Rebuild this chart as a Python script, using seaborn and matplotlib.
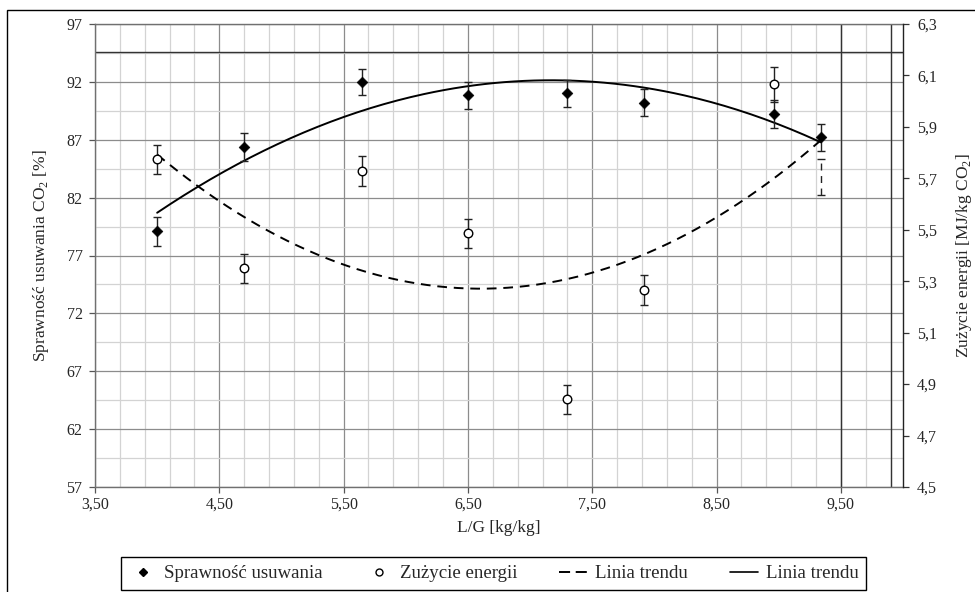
import numpy as np
import matplotlib
matplotlib.use("Agg")
import matplotlib.pyplot as plt
import seaborn as sns
from matplotlib.ticker import MultipleLocator, FuncFormatter
from matplotlib.lines import Line2D
from matplotlib.patches import Rectangle

# L/G ratio and measured values
lg = [4.00, 4.70, 5.65, 6.50, 7.30, 7.92, 8.96, 9.34]
sprawnosc = [79.1, 86.35, 92.0, 90.85, 91.0, 90.2, 89.2, 87.2]
sprawnosc_err = [1.25, 1.2, 1.15, 1.18, 1.18, 1.18, 1.2, 1.18]
zuzycie = [5.774, 5.35, 5.728, 5.486, 4.841, 5.266, 6.066, 5.705]
zuzycie_err = [0.057, 0.057, 0.057, 0.057, 0.056, 0.057, 0.068, 0.069]

sns.set_style("white")
plt.rcParams['font.family'] = ['Liberation Serif', 'DejaVu Serif']
plt.rcParams['mathtext.fontset'] = 'custom'
plt.rcParams['mathtext.rm'] = 'Liberation Serif'

fig = plt.figure(figsize=(9.75, 5.92), dpi=100)
ax = fig.add_axes([95 / 975, 1 - 487 / 592, 808 / 975, 463 / 592])
ax2 = ax.twinx()

# grid
ax.set_xlim(3.5, 10.0)
ax.set_ylim(57, 97)
ax.xaxis.set_major_locator(MultipleLocator(1.0, offset=0.5))
ax.xaxis.set_minor_locator(MultipleLocator(0.2, offset=0.1))
ax.yaxis.set_major_locator(MultipleLocator(5, offset=2))
ax.yaxis.set_minor_locator(MultipleLocator(2.5, offset=2))
ax.grid(which='major', color='#8c8c8c', lw=0.9)
ax.grid(which='minor', color='#d3d3d3', lw=0.9)
ax.set_axisbelow(True)
ax.xaxis.set_major_formatter(FuncFormatter(lambda v, p: f"{v:.2f}".replace('.', ',')))
ax.yaxis.set_major_formatter(FuncFormatter(lambda v, p: f"{v:.0f}"))
ax.tick_params(axis='both', which='major', direction='out', length=4, width=0.9,
               color='#555555', labelsize=11.5, pad=5, bottom=True, left=True)
ax.tick_params(axis='x', which='major', pad=3)
ax.tick_params(axis='both', which='minor', length=0)

# odd dark lines in the source chart
ax.axhline(94.6, color='#333333', lw=1.0, zorder=1)
ax.axvline(9.5, color='#333333', lw=1.0, zorder=1)
ax.axvline(9.9, color='#333333', lw=1.0, zorder=1)

for s in ['left', 'bottom', 'top']:
    ax.spines[s].set_color('#707070')
    ax.spines[s].set_linewidth(1.0)
ax.spines['right'].set_visible(False)

# trend lines (2nd order polynomial, like Excel)
xs = np.linspace(min(lg), max(lg), 200)
fit_s = np.polyval(np.polyfit(lg, sprawnosc, 2), xs)
fit_z = np.polyval(np.polyfit(lg, zuzycie, 2), xs)

sns.lineplot(x=xs, y=fit_s, ax=ax, color='black', lw=1.4, zorder=4)
ax.errorbar(lg, sprawnosc, yerr=sprawnosc_err, fmt='none', ecolor='#222222',
            elinewidth=1.0, capsize=3.2, capthick=1.0, zorder=5)
sns.scatterplot(x=lg, y=sprawnosc, ax=ax, marker='D', s=30, color='black',
                edgecolor='black', zorder=6)

# energy on secondary axis
ax2.set_ylim(4.5, 6.3)
ax2.set_yticks(np.round(np.arange(4.5, 6.31, 0.2), 1))
ax2.yaxis.set_major_formatter(FuncFormatter(lambda v, p: f"{v:.1f}".replace('.', ',')))
ax2.tick_params(axis='y', direction='out', length=4, width=0.9, color='#333333',
                labelsize=11.5, pad=6, right=True)
for s in ['left', 'bottom', 'top']:
    ax2.spines[s].set_visible(False)
ax2.spines['right'].set_color('#222222')
ax2.spines['right'].set_linewidth(1.0)
ax2.grid(False)

sns.lineplot(x=xs, y=fit_z, ax=ax2, color='black', lw=1.4, zorder=4)
ax2.lines[-1].set_dashes((5, 3.5))
ax2.errorbar(lg[:-1], zuzycie[:-1], yerr=zuzycie_err[:-1], fmt='none',
             ecolor='#222222', elinewidth=1.0, capsize=3.2, capthick=1.0, zorder=5)
eb_last = ax2.errorbar(lg[-1:], zuzycie[-1:], yerr=zuzycie_err[-1:], fmt='none',
                       ecolor='#222222', elinewidth=1.0, capsize=3.2, capthick=1.0, zorder=5)
eb_last[2][0].set_linestyle((0, (5, 4)))
sns.scatterplot(x=lg[:-1], y=zuzycie[:-1], ax=ax2, marker='o', s=38, color='white',
                edgecolor='black', linewidth=1.0, zorder=6)

ax.set_xlabel('L/G [kg/kg]', fontsize=12.5, labelpad=5)
ax.set_ylabel('Sprawność usuwania CO$_\\mathregular{2}$ [%]', fontsize=12.5, labelpad=11)
ax2.set_ylabel('Zużycie energii [MJ/kg CO$_\\mathregular{2}$]', fontsize=12.5, labelpad=12)

handles = [
    Line2D([], [], marker='D', color='black', ls='none', markersize=4.5),
    Line2D([], [], marker='o', mfc='white', mec='black', ls='none', markersize=5),
    Line2D([], [], color='black', lw=1.4, ls=(0, (5.7, 2.9))),
    Line2D([], [], color='black', lw=1.2),
]
labels = ['Sprawność usuwania', 'Zużycie energii', 'Linia trendu', 'Linia trendu']
leg = fig.legend(handles, labels, loc='center', ncol=4, fontsize=13.6,
                 bbox_to_anchor=(0.506, 0.0312), frameon=True, fancybox=False,
                 edgecolor='black', framealpha=1, borderpad=0.4,
                 columnspacing=2.2, handlelength=1.5, handletextpad=0.4)
leg.get_frame().set_linewidth(1.0)

# outer chart frame
fig.patches.append(Rectangle((7 / 975, -0.05), 1.2, 1.05 - 10 / 592,
                             transform=fig.transFigure, fill=False,
                             edgecolor='black', lw=1.0))

fig.savefig('out.png', dpi=100)
